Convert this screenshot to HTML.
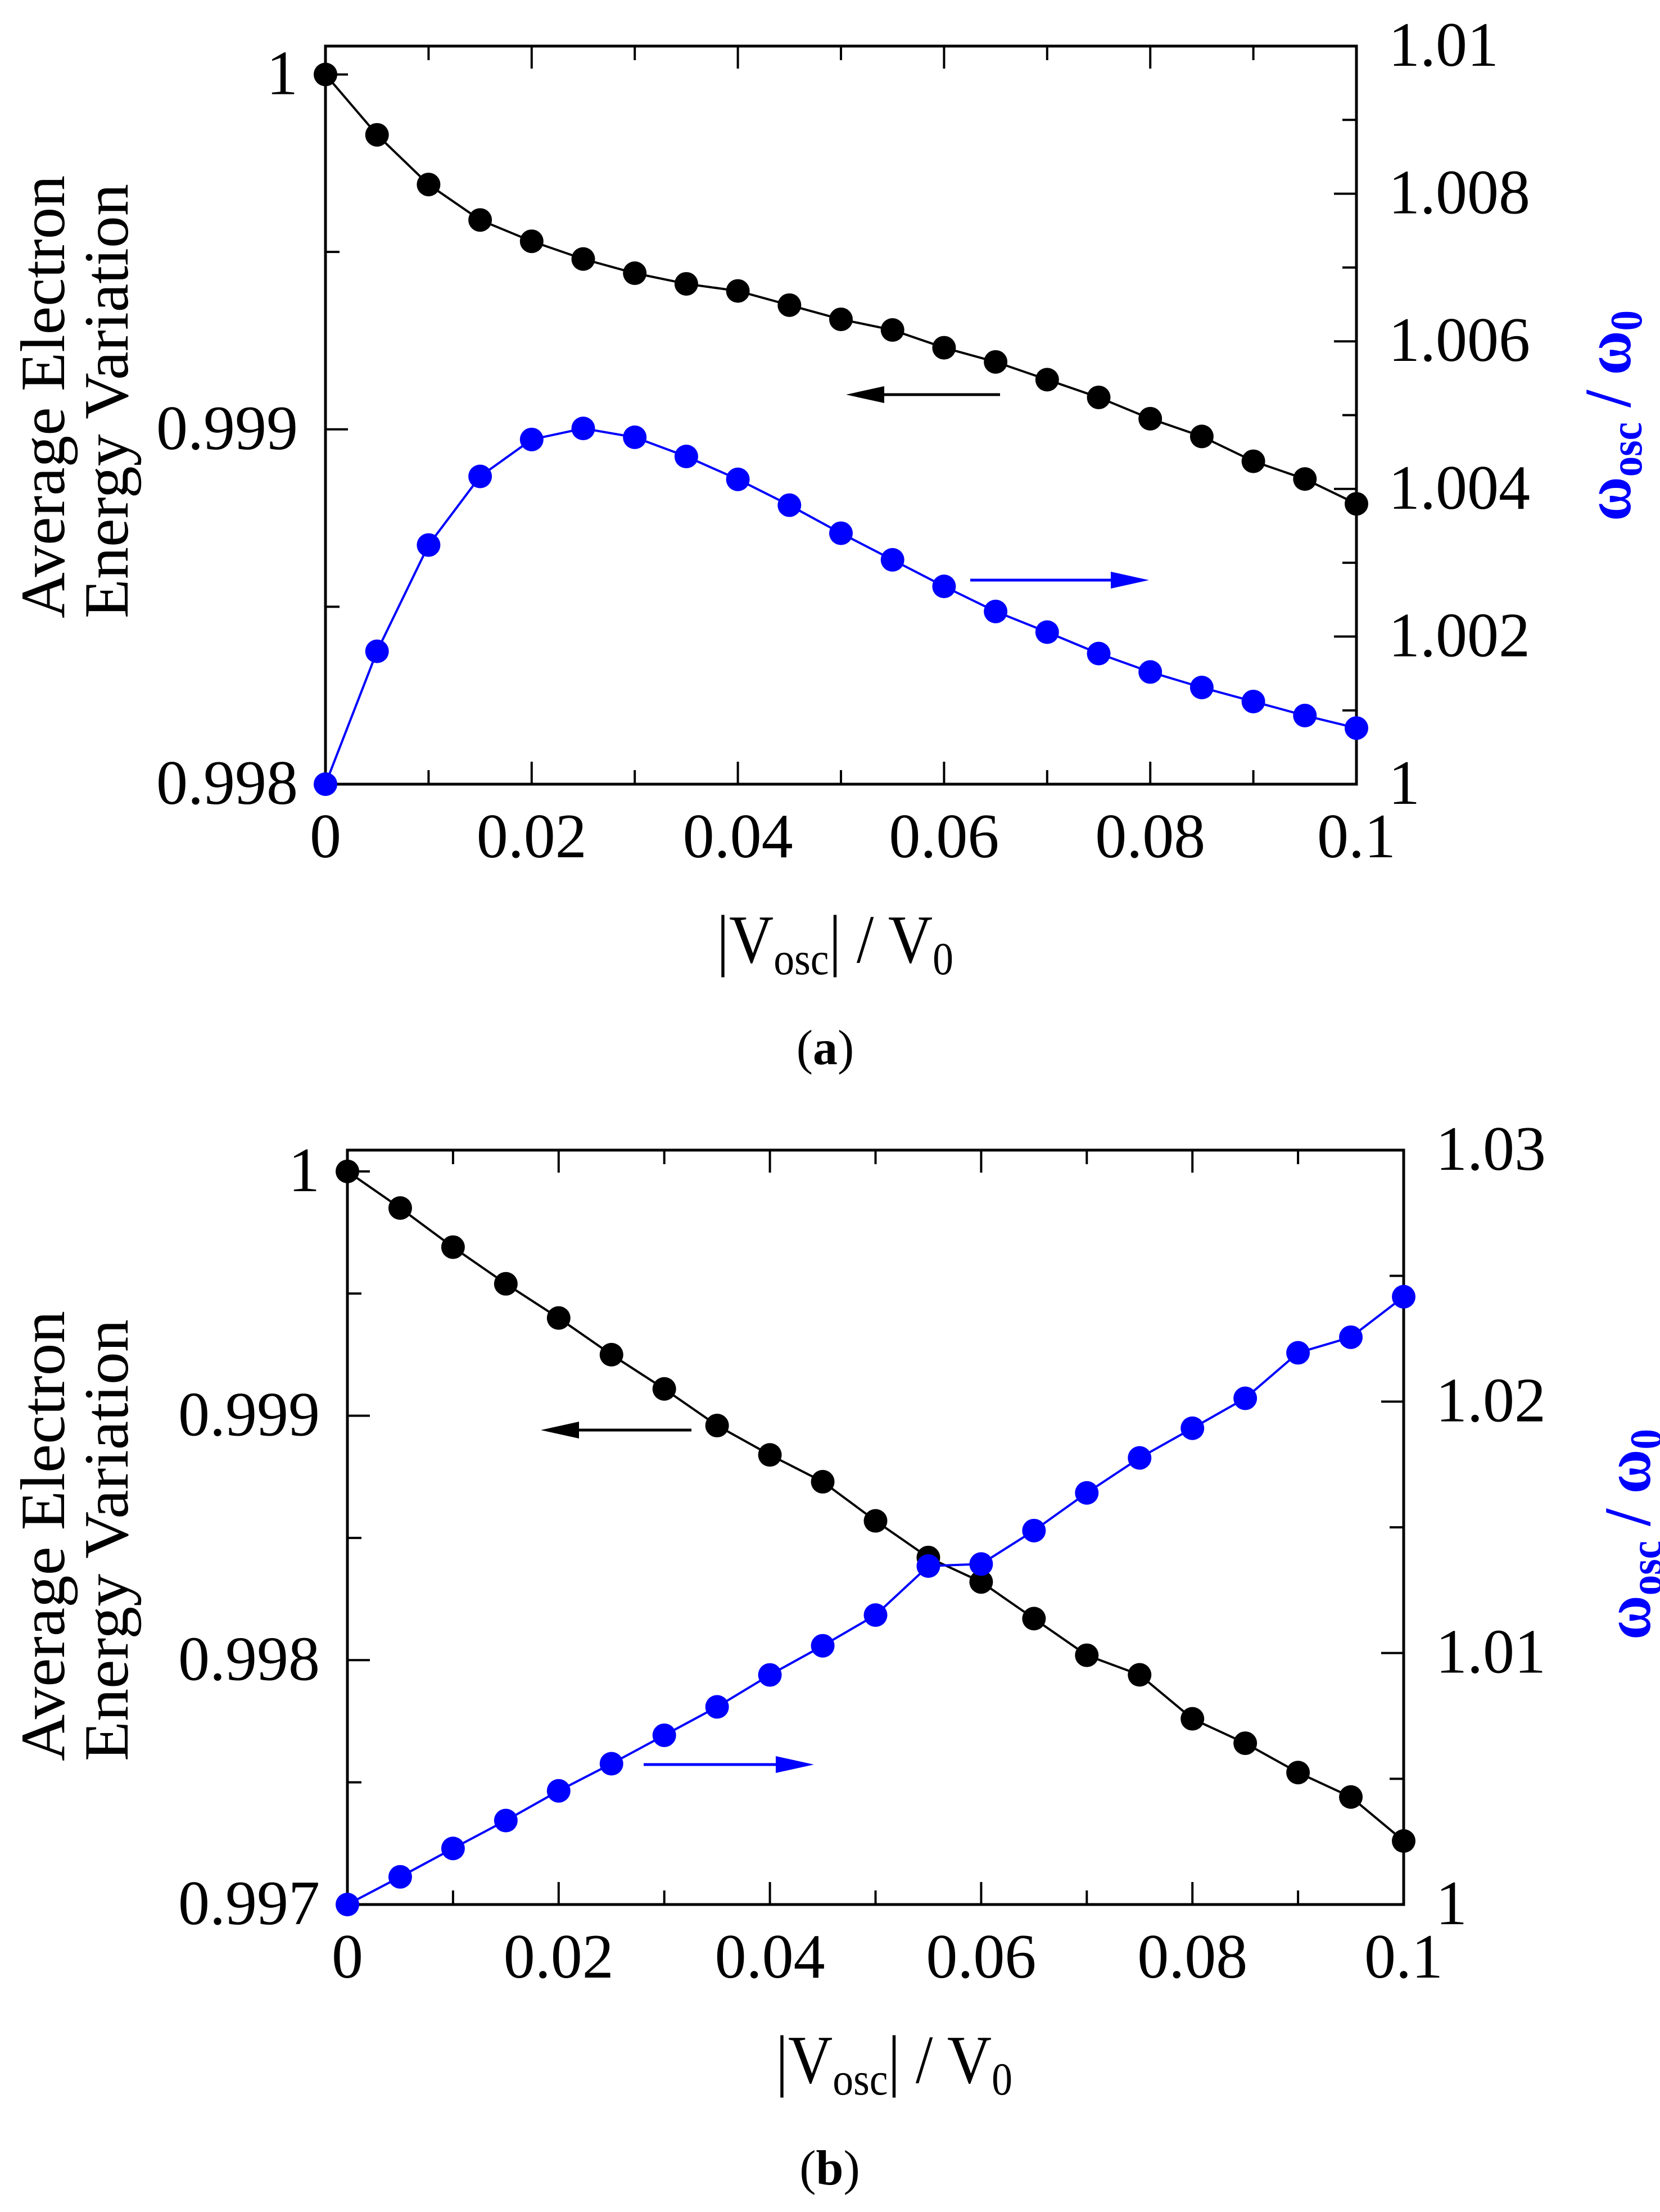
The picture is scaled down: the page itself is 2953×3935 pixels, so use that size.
<!DOCTYPE html>
<html><head><meta charset="utf-8"><style>
html,body{margin:0;padding:0;background:#fff;}
svg{display:block;}
svg text{font-family:"Liberation Serif","Times New Roman",Times,serif;}
</style></head><body>
<svg id="fig" width="2953" height="3935" viewBox="0 0 2953 3935" xmlns="http://www.w3.org/2000/svg" font-family="Liberation Serif, Times New Roman, serif">
<rect width="2953" height="3935" fill="#fff"/>
</svg>
<script>
const xCats = [0,0.005,0.01,0.015,0.02,0.025,0.03,0.035,0.04,0.045,0.05,0.055,0.06,0.065,0.07,0.075,0.08,0.085,0.09,0.095,0.1];
const energyA = [1.0,0.99983,0.99969,0.99959,0.99953,0.99948,0.99944,0.99941,0.99939,0.99935,0.99931,0.99928,0.99923,0.99919,0.99914,0.99909,0.99903,0.99898,0.99891,0.99886,0.99879];
const omegaA = [1.0,1.0018,1.00324,1.00417,1.00467,1.00482,1.0047,1.00444,1.00413,1.00378,1.0034,1.00304,1.00268,1.00234,1.00206,1.00177,1.00152,1.00131,1.00112,1.00093,1.00076];
const energyB = [1.0,0.99985,0.99969,0.99954,0.9994,0.99925,0.99911,0.99896,0.99884,0.99873,0.99857,0.99842,0.99832,0.99817,0.99802,0.99794,0.99776,0.99766,0.99754,0.99744,0.99726];
const omegaB = [1.0,1.0011,1.00223,1.00334,1.00452,1.0056,1.00673,1.00786,1.00913,1.01029,1.01151,1.01346,1.01354,1.01487,1.01637,1.01776,1.01894,1.02013,1.02194,1.02256,1.02417];
const xTickLabels = ["0","0.02","0.04","0.06","0.08","0.1"];
const leftTicksA = ["0.998","0.999","1"];
const rightTicksA = ["1","1.002","1.004","1.006","1.008","1.01"];
const leftTicksB = ["0.997","0.998","0.999","1"];
const rightTicksB = ["1","1.01","1.02","1.03"];

const NS="http://www.w3.org/2000/svg";
const FF="Liberation Serif, Times New Roman, serif";
const svg=document.getElementById('fig');
function mk(tag,attrs,parent){const e=document.createElementNS(NS,tag);for(const k in attrs)e.setAttribute(k,attrs[k]);if(tag==='text')e.setAttribute('font-family',FF);(parent||svg).appendChild(e);return e;}

function panel(cfg){
  const g=mk('g',{});
  
  
  const L=cfg.L,R=cfg.R,T=cfg.T,B=cfg.B;
  const xs=v=>L+(v-0)/(0.1)*(R-L);
  const yl=v=>B-(v-cfg.lmin)/(cfg.lmax-cfg.lmin)*(B-T);
  const yr=v=>B-(v-cfg.rmin)/(cfg.rmax-cfg.rmin)*(B-T);
  const tk=mk('g',{stroke:'#000','stroke-width':4},g);
  
  
  for(let i=1;i<10;i++){const x=xs(i*0.01);const len=(i%2==0)?40:25;
    mk('line',{x1:x,y1:B,x2:x,y2:B-len},tk);mk('line',{x1:x,y1:T,x2:x,y2:T+len},tk);}
  const lstep=0.0005;
  for(let v=cfg.lmin+lstep;v<cfg.lmax-1e-9;v+=lstep){const y=yl(v);const maj=Math.abs(Math.round(v*1000)-v*1000)<1e-6;
    mk('line',{x1:L,y1:y,x2:L+(maj?40:25),y2:y},tk);}
  for(let v=cfg.rmin+cfg.rminor;v<cfg.rmax-1e-9;v+=cfg.rminor){const y=yr(v);const k=Math.round((v-cfg.rmin)/cfg.rminor);const maj=(k%cfg.rratio==0);
    mk('line',{x1:R,y1:y,x2:R-(maj?40:25),y2:y},tk);}
  const fr=mk('rect',{x:L,y:T,width:R-L,height:B-T,fill:'none',stroke:'#000','stroke-width':5},g);
  
  
  xTickLabels.forEach(s=>{const t=mk('text',{x:xs(parseFloat(s)),y:B+130,'font-size':112,'text-anchor':'middle'},g);t.textContent=s;
    
    });
  cfg.lt.forEach(s=>{const t=mk('text',{x:L-49,y:yl(parseFloat(s))+35,'font-size':112,'text-anchor':'end'},g);t.textContent=s;
    
    });
  cfg.rt.forEach(s=>{const t=mk('text',{x:R+57,y:yr(parseFloat(s))+35,'font-size':112},g);t.textContent=s;
    
    });
  function series(vals,yf,col,nm){
    const sg=mk('g',{},g);
    
    
    const pts=vals.map((v,i)=>xs(xCats[i])+','+yf(v)).join(' ');
    mk('polyline',{points:pts,fill:'none',stroke:col,'stroke-width':4},sg);
    vals.forEach((v,i)=>{const c=mk('circle',{cx:xs(xCats[i]),cy:yf(v),r:21,fill:col},sg);
      
      });
  }
  series(cfg.e,yl,'#000','energy-series');
  series(cfg.w,yr,'#0000ff','omega-series');
  function arrow(x1,x2,y,col,nm){
    const ag=mk('g',{},g);
    
    
    const d=x2>x1?1:-1;
    mk('line',{x1:x1,y1:y,x2:x2-d*60,y2:y,stroke:col,'stroke-width':5},ag);
    mk('polygon',{points:`${x2},${y} ${x2-d*68},${y-15} ${x2-d*68},${y+15}`,fill:col},ag);
  }
  arrow(cfg.ba[0],cfg.ba[1],cfg.ba[2],'#000','left-axis-arrow');
  arrow(cfg.wa[0],cfg.wa[1],cfg.wa[2],'#0000ff','right-axis-arrow');
  const yt1=mk('text',{transform:`translate(114,${cfg.ytB}) rotate(-90)`,'font-size':112,textLength:cfg.ytL1,lengthAdjust:'spacingAndGlyphs'},g);
  yt1.textContent='Average Electron';
  
  
  const yt2=mk('text',{transform:`translate(227,${cfg.ytB}) rotate(-90)`,'font-size':112,textLength:cfg.ytL2,lengthAdjust:'spacingAndGlyphs'},g);
  yt2.textContent='Energy Variation';
  
  
  const rt=mk('text',{transform:`translate(${cfg.rtX},${cfg.rtB}) rotate(-90)`,'font-size':118,'font-weight':'bold',fill:'#0000ff',textLength:375,lengthAdjust:'spacingAndGlyphs'},g);
  
  
  rt.innerHTML='ω<tspan font-size="80" dy="20">osc</tspan><tspan dy="-20"> / ω</tspan><tspan font-size="80" dy="20">0</tspan>';
  const xt=mk('text',{x:cfg.xtX,y:B+317,'font-size':122,textLength:421,lengthAdjust:'spacingAndGlyphs'},g);
  
  
  xt.innerHTML='|V<tspan font-size="82" dy="21">osc</tspan><tspan dy="-21">| / V</tspan><tspan font-size="82" dy="21">0</tspan>';
  const cap=mk('text',{x:cfg.capX,y:B+498,'font-size':88,'text-anchor':'middle'},g);
  
  
  cap.innerHTML='(<tspan font-weight="bold">'+cfg.cap+'</tspan>)';
}

panel({name:'panel-a',L:579,R:2413,T:82,B:1395,lmin:0.998,lmax:1.00008,rmin:1,rmax:1.01,rminor:0.001,rratio:2,
  lt:leftTicksA,rt:rightTicksA,e:energyA,w:omegaA,ba:[1779,1505,702],wa:[1726,2044,1032],
  ytB:1100,ytL1:788,ytL2:773,rtX:2900,rtB:927,xtX:1275,capX:1468,cap:'a'});
panel({name:'panel-b',L:618,R:2497,T:2046,B:3388,lmin:0.997,lmax:1.000087,rmin:1,rmax:1.03,rminor:0.005,rratio:2,
  lt:leftTicksB,rt:rightTicksB,e:energyB,w:omegaB,ba:[1230,962,2544],wa:[1145,1448,3139],
  ytB:3133,ytL1:801,ytL2:786,rtX:2935,rtB:2917,xtX:1380,capX:1476,cap:'b'});
</script>
</body></html>
